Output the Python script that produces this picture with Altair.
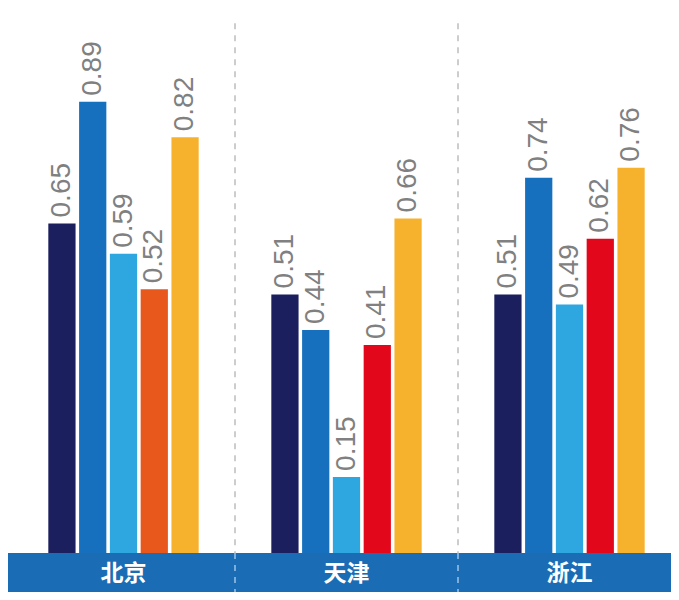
import altair as alt
import pandas as pd

cities = ["北京", "天津", "浙江"]
series = ["1", "2", "3", "4", "5"]
s1 = [0.65, 0.51, 0.51]
s2 = [0.89, 0.44, 0.74]
s3 = [0.59, 0.15, 0.49]
s4 = [0.52, 0.41, 0.62]
s5 = [0.82, 0.66, 0.76]
values = [s1, s2, s3, s4, s5]

colors = ["#1B1F5E", "#1670BD", "#2EA6E0", "#E3071B", "#F6B22D"]
beijing_s4_color = "#E8571C"
band_color = "#1A6DB5"

rows = []
for i, s in enumerate(series):
    for j, c in enumerate(cities):
        rows.append({"city": c, "s": s, "v": values[i][j]})
df = pd.DataFrame(rows)

W, H = 663, 584
yscale = alt.Scale(domain=[-0.077, 1.075], nice=False, zero=False)
xscale = alt.Scale(domain=cities, paddingInner=0, paddingOuter=0, range=[4, 673])
xenc = alt.X("city:N", scale=xscale, axis=None)
# empty slots at both ends give the gap around each group of bars
offset_domain = ["_l"] + series + ["_r"]
xoff = alt.XOffset("s:N", scale=alt.Scale(domain=offset_domain, paddingInner=0.115, paddingOuter=0.18))

band = alt.Chart(pd.DataFrame({"city": cities})).mark_rect(color=band_color).encode(
    x=alt.value(0),
    x2=alt.value(W),
    y=alt.Y(datum=0, scale=yscale, axis=None),
    y2=alt.Y2(datum=-0.077),
)

band_text = alt.Chart(pd.DataFrame({"city": cities})).mark_text(
    color="white", fontSize=23, fontWeight="bold", font="Noto Sans CJK SC",
    baseline="middle", align="center"
).encode(
    x=xenc,
    y=alt.Y(datum=-0.042, scale=yscale, axis=None),
    text="city:N",
)

sep = alt.Chart(pd.DataFrame({"city": cities[1:]}))
sep_top = sep.mark_rule(strokeDash=[6, 6], color="#BDBDBD", strokeWidth=1.5).encode(
    x=alt.X("city:N", scale=xscale, axis=None, bandPosition=0),
    y=alt.Y(datum=1.045, scale=yscale, axis=None),
    y2=alt.Y2(datum=0),
)
sep_band = sep.mark_rule(strokeDash=[6, 6], color="#9CC3E8", strokeWidth=1.5).encode(
    x=alt.X("city:N", scale=xscale, axis=None, bandPosition=0),
    y=alt.Y(datum=0, scale=yscale, axis=None),
    y2=alt.Y2(datum=-0.077),
)

base = alt.Chart(df)
bars = base.mark_bar().encode(
    x=xenc,
    xOffset=xoff,
    y=alt.Y("v:Q", scale=yscale, axis=None),
    y2=alt.Y2(datum=0),
    color=alt.condition(
        "datum.city == '北京' && datum.s == '4'",
        alt.value(beijing_s4_color),
        alt.Color("s:N", scale=alt.Scale(domain=series, range=colors), legend=None),
    ),
)
labels = base.mark_text(
    angle=270, align="left", baseline="middle", dx=6, fontSize=28,
    color="#808080", font="Liberation Sans",
).encode(
    x=xenc,
    xOffset=xoff,
    y=alt.Y("v:Q", scale=yscale, axis=None),
    text=alt.Text("v:Q", format=".2f"),
)

chart = alt.layer(sep_top, bars, labels, band, sep_band, band_text).properties(
    width=W, height=H, padding=0
).configure_view(strokeWidth=0)

chart.save("out.html", embed_options={"renderer": "svg", "actions": False})
